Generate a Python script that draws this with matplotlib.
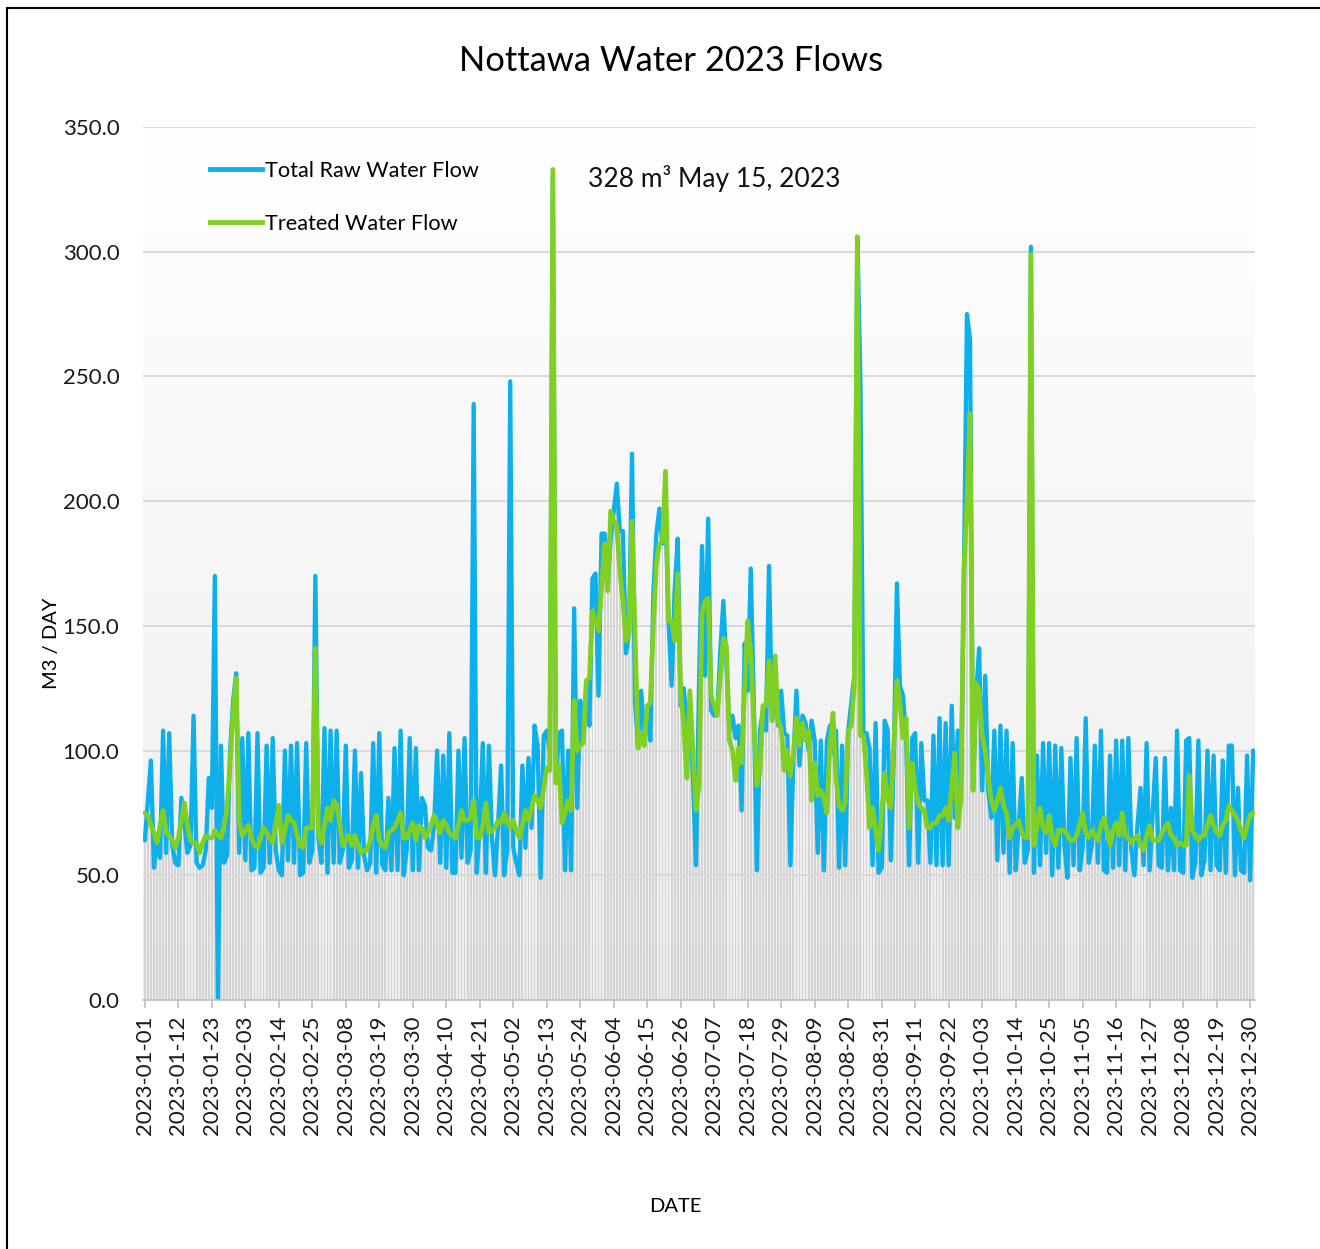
import numpy as np
import pandas as pd
import matplotlib
matplotlib.use("Agg")
import matplotlib.pyplot as plt
import matplotlib.dates as mdates
from matplotlib.patches import Rectangle
from matplotlib.colors import LinearSegmentedColormap
from matplotlib.lines import Line2D

# ---------------- data ----------------
dates = pd.date_range("2023-01-01", "2023-12-31", freq="D")

raw_flow = [
    64, 80, 96, 53, 64, 57, 108, 59, 107, 62,
    55, 54, 81, 70, 59, 62, 114, 55, 53, 54,
    60, 89, 77, 170, 0, 102, 55, 58, 100, 120,
    131, 59, 105, 56, 107, 52, 53, 107, 51, 53,
    102, 55, 105, 60, 52, 50, 100, 56, 102, 55,
    103, 50, 51, 103, 55, 60, 170, 65, 55, 109,
    51, 108, 55, 108, 55, 60, 102, 53, 56, 100,
    53, 91, 58, 52, 55, 103, 51, 107, 54, 52,
    81, 52, 101, 52, 108, 50, 60, 105, 52, 101,
    52, 81, 78, 61, 60, 70, 100, 55, 98, 53,
    107, 51, 51, 100, 57, 105, 55, 60, 239, 51,
    70, 103, 51, 102, 65, 50, 70, 94, 50, 60,
    248, 61, 55, 50, 94, 61, 97, 69, 110, 102,
    49, 106, 108, 100, 330, 88, 107, 108, 52, 100,
    52, 157, 77, 120, 104, 127, 110, 169, 171, 122,
    187, 187, 166, 185, 196, 207, 188, 188, 139, 147,
    219, 119, 102, 124, 107, 114, 104, 163, 187, 197,
    183, 196, 152, 126, 164, 185, 118, 125, 110, 112,
    90, 54, 126, 182, 130, 193, 116, 114, 115, 140,
    160, 134, 108, 114, 105, 110, 76, 143, 124, 173,
    119, 52, 108, 116, 108, 174, 112, 128, 110, 124,
    107, 106, 54, 96, 124, 94, 114, 111, 100, 112,
    104, 59, 104, 52, 104, 110, 99, 108, 53, 102,
    54, 108, 119, 130, 306, 249, 106, 107, 101, 54,
    111, 51, 53, 112, 108, 56, 99, 167, 126, 122,
    106, 54, 105, 107, 55, 103, 80, 80, 55, 106,
    54, 113, 54, 111, 54, 118, 73, 108, 80, 170,
    275, 265, 85, 122, 141, 84, 130, 84, 73, 108,
    56, 110, 59, 108, 51, 103, 52, 70, 89, 55,
    60, 302, 51, 98, 54, 103, 59, 103, 50, 102,
    53, 101, 62, 49, 97, 54, 105, 52, 61, 113,
    55, 62, 102, 55, 108, 52, 51, 98, 53, 104,
    54, 104, 52, 105, 60, 50, 70, 85, 54, 103,
    52, 75, 97, 54, 53, 97, 52, 77, 52, 108,
    52, 51, 104, 105, 49, 55, 104, 50, 56, 100,
    52, 98, 54, 52, 96, 51, 102, 102, 50, 85,
    52, 51, 98, 48, 100,
]

treated_flow = [
    75, 74, 70, 67, 63, 70, 76, 67, 66, 64,
    61, 65, 72, 79, 70, 64, 63, 63, 59, 63,
    66, 65, 65, 68, 66, 65, 70, 77, 95, 115,
    129, 71, 66, 68, 70, 65, 62, 61, 65, 69,
    67, 65, 63, 70, 78, 63, 68, 74, 72, 71,
    66, 62, 61, 69, 69, 69, 141, 67, 63, 70,
    77, 72, 80, 78, 71, 62, 64, 66, 62, 66,
    62, 59, 60, 60, 64, 70, 74, 64, 62, 61,
    67, 68, 69, 72, 75, 65, 65, 68, 71, 64,
    70, 69, 65, 67, 70, 74, 71, 67, 72, 70,
    67, 66, 65, 70, 76, 72, 72, 73, 80, 65,
    65, 70, 79, 67, 68, 69, 72, 71, 75, 72,
    69, 72, 68, 65, 70, 76, 72, 77, 82, 80,
    77, 85, 93, 92, 333, 87, 94, 71, 75, 80,
    76, 120, 100, 102, 103, 128, 129, 156, 152, 148,
    165, 183, 164, 196, 192, 190, 172, 160, 144, 147,
    192, 147, 101, 107, 102, 118, 119, 150, 175, 183,
    184, 212, 152, 152, 144, 171, 123, 110, 89, 124,
    100, 76, 86, 155, 160, 161, 122, 118, 114, 130,
    145, 142, 104, 100, 88, 101, 95, 125, 152, 139,
    112, 86, 91, 118, 118, 136, 112, 138, 111, 109,
    92, 100, 90, 99, 113, 102, 111, 104, 108, 80,
    95, 82, 84, 81, 75, 102, 115, 89, 78, 76,
    79, 108, 110, 126, 306, 106, 106, 91, 69, 77,
    68, 60, 75, 91, 80, 77, 103, 128, 119, 105,
    113, 69, 95, 85, 79, 77, 76, 69, 69, 71,
    71, 74, 74, 77, 72, 86, 99, 69, 80, 172,
    200, 235, 84, 127, 124, 106, 100, 89, 80, 76,
    80, 85, 78, 75, 65, 69, 70, 72, 67, 65,
    65, 299, 62, 70, 77, 69, 67, 74, 65, 62,
    68, 68, 68, 66, 64, 64, 66, 70, 75, 67,
    65, 68, 66, 64, 70, 73, 68, 62, 68, 71,
    66, 75, 66, 65, 63, 65, 66, 62, 60, 66,
    70, 64, 64, 64, 67, 69, 71, 66, 65, 62,
    63, 62, 62, 90, 68, 66, 64, 66, 66, 70,
    74, 70, 67, 66, 70, 72, 78, 76, 74, 72,
    68, 65, 70, 74, 75,
]

tick_dates = dates[::11]
tick_labels = [d.strftime("%Y-%m-%d") for d in tick_dates]
y_ticks = [0, 50, 100, 150, 200, 250, 300, 350]

title = "Nottawa Water 2023 Flows"
series_names = ["Total Raw Water Flow", "Treated Water Flow"]
note = "328 m\u00b3 May 15, 2023"

# ---------------- figure ----------------
plt.rcParams["font.family"] = ["Lato", "DejaVu Sans"]
W, H = 1320, 1249
fig = plt.figure(figsize=(W / 100, H / 100), dpi=100)
fig.patch.set_facecolor("white")

L, R, T, B = 143, 1255, 127, 1000
ax = fig.add_axes([L / W, 1 - B / H, (R - L) / W, (B - T) / H])

x = mdates.date2num(dates)
x0, x1 = x[0] - 0.6, x[-1] + 0.6

# background gradient
cmap = LinearSegmentedColormap.from_list("bg", ["#eeeeee", "#ffffff"])
grad = np.linspace(0, 1, 256).reshape(-1, 1)
ax.imshow(grad, extent=[x0, x1, 0, 350], origin="lower", aspect="auto",
          cmap=cmap, zorder=0, interpolation="bicubic")

# grey columns behind
ax.bar(x, raw_flow, width=0.6, color="#d4d4d4", linewidth=0, zorder=1)

ax.plot(x, raw_flow, color="#0db0ea", lw=3.1, solid_joinstyle="round",
        solid_capstyle="round", zorder=3)
ax.plot(x, treated_flow, color="#80d024", lw=3.4, solid_joinstyle="round",
        solid_capstyle="round", zorder=4)

ax.set_xlim(x0, x1)
ax.set_ylim(0, 350)
ax.set_axisbelow(False)
ax.set_yticks(y_ticks)
ax.set_yticklabels([f"{v:.1f}" for v in y_ticks])
ax.yaxis.grid(True, color="#d9d9d9", lw=1.4, zorder=2.5)
ax.xaxis.grid(False)

ax.set_xticks(mdates.date2num(tick_dates))
ax.set_xticklabels(tick_labels, rotation=90, va="top", ha="center")

for s in ["top", "left", "right"]:
    ax.spines[s].set_visible(False)
ax.spines["bottom"].set_color("#bfbfbf")
ax.spines["bottom"].set_linewidth(1.2)
ax.spines["bottom"].set_zorder(5)

ax.tick_params(axis="y", length=0, pad=17, labelsize=16, labelcolor="#1a1a1a")
ax.tick_params(axis="x", length=6, width=1.2, color="#bfbfbf", pad=5,
               labelsize=16, labelcolor="#1a1a1a")

# legend
handles = [Line2D([0], [0], color="#0db0ea", lw=3.5),
           Line2D([0], [0], color="#80d024", lw=3.5)]
ax.legend(handles, series_names, loc="upper left",
          bbox_to_anchor=((210 - L) / (R - L), (B - 161) / (B - T)),
          frameon=False, fontsize=15.6, handlelength=2.4, handletextpad=0.15,
          labelspacing=1.5, borderpad=0, borderaxespad=0)

ax.text((588 - L) / (R - L), (B - 178) / (B - T), note, transform=ax.transAxes,
        fontsize=19, va="center", ha="left", color="#111111", zorder=6)

fig.text(671 / W, 1 - 61 / H, title, fontsize=24.8, ha="center", va="center")
fig.text(51 / W, 1 - 643 / H, "M3 / DAY", fontsize=14.5, rotation=90,
         ha="center", va="center")
fig.text(675 / W, 1 - 1207 / H, "DATE", fontsize=14.5, ha="center", va="center")

# outer frame
fig.patches.append(Rectangle((7 / W, -0.1), 1.2, (H - 8) / H + 0.1,
                             transform=fig.transFigure, fill=False,
                             edgecolor="black", lw=1.5))

fig.savefig("out.png", dpi=100)
